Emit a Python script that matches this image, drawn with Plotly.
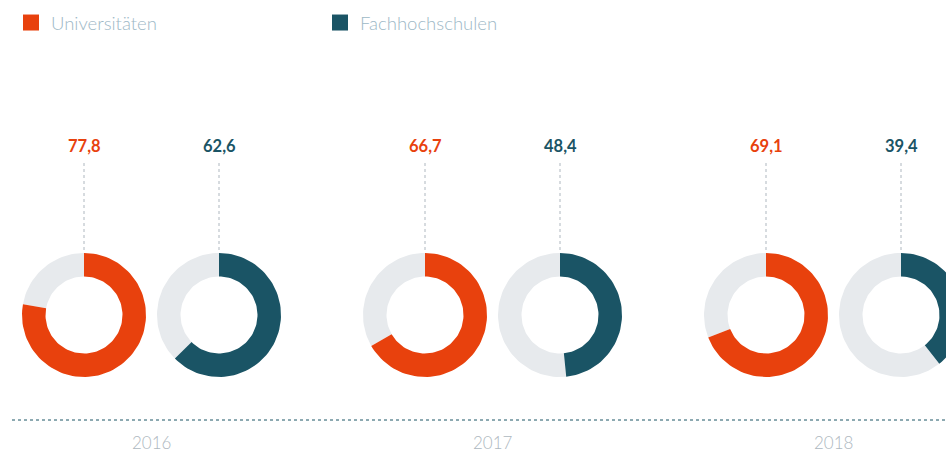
import numpy as np
import plotly.graph_objects as go

# ---- data ----
years = ["2016", "2017", "2018"]
series_names = ["Universitäten", "Fachhochschulen"]
uni_values = [77.8, 66.7, 69.1]
fh_values = [62.6, 48.4, 39.4]

# ---- style ----
W, H = 946, 453
colors = ["#E8410D", "#1A5465"]
grey = "#E7EAED"
font_family = "Lato, 'Open Sans', sans-serif"

group_x0 = 151.5      # centre of first year group (px)
group_step = 341      # distance between year groups (px)
pair_offset = 67.5    # half distance between the two donuts of a year
cy = 315              # donut centre y (px from top)
R_out, R_in = 62, 38.5


def sector(cx, cy, a0, a1, n=120):
    """annular sector from fraction a0 to a1 (clockwise from 12 o'clock)"""
    t = np.linspace(a0, a1, max(int(n * (a1 - a0)) + 2, 3)) * 2 * np.pi
    xo = cx + R_out * np.sin(t)
    yo = cy - R_out * np.cos(t)
    xi = cx + R_in * np.sin(t[::-1])
    yi = cy - R_in * np.cos(t[::-1])
    return np.concatenate([xo, xi, xo[:1]]), np.concatenate([yo, yi, yo[:1]])


fig = go.Figure()
shapes = []
annotations = []

for i, year in enumerate(years):
    gx = group_x0 + i * group_step
    for s, vals in enumerate([uni_values, fh_values]):
        v = vals[i]
        cx = gx + (-pair_offset if s == 0 else pair_offset)
        frac = v / 100.0
        # remainder (grey)
        x, y = sector(cx, cy, frac, 1.0)
        fig.add_trace(go.Scatter(x=x, y=y, fill="toself", fillcolor=grey,
                                 mode="lines", line=dict(width=0, color=grey),
                                 hoverinfo="skip", showlegend=False))
        # value (coloured)
        x, y = sector(cx, cy, 0.0, frac)
        fig.add_trace(go.Scatter(x=x, y=y, fill="toself", fillcolor=colors[s],
                                 mode="lines", line=dict(width=0, color=colors[s]),
                                 name=series_names[s], text=f"{year}: {v}",
                                 hoverinfo="text", showlegend=False))
        # dotted leader line
        shapes.append(dict(type="line", xref="x", yref="y",
                           x0=cx, x1=cx, y0=163, y1=cy - R_out,
                           line=dict(color="#AEB7BF", width=1, dash="dot")))
        # value label
        annotations.append(dict(x=cx, y=146, xref="x", yref="y",
                                text=f"<b>{v:.1f}</b>".replace(".", ","),
                                showarrow=False,
                                font=dict(family=font_family, size=16.5, color=colors[s])))
    # year label
    annotations.append(dict(x=gx, y=442, xref="x", yref="y", text=year,
                            showarrow=False,
                            font=dict(family=font_family, size=17, color="#AEB8C0", weight=300)))

# baseline dotted line
shapes.append(dict(type="line", xref="x", yref="y", x0=12, x1=W, y0=420, y1=420,
                   line=dict(color="#1A5465", width=1, dash="dot")))

# legend entries
for s in range(2):
    fig.add_trace(go.Scatter(x=[None], y=[None], mode="markers", name=series_names[s],
                             marker=dict(symbol="square", size=16, color=colors[s]),
                             showlegend=True))

fig.update_layout(
    width=W, height=H,
    margin=dict(l=0, r=0, t=0, b=0),
    paper_bgcolor="white", plot_bgcolor="white",
    xaxis=dict(range=[0, W], visible=False, fixedrange=True),
    yaxis=dict(range=[H, 0], visible=False, fixedrange=True),
    shapes=shapes,
    annotations=annotations,
    showlegend=True,
    legend=dict(orientation="h", x=11 / W, y=1 - 4 / H, xanchor="left", yanchor="top",
                entrywidth=264, entrywidthmode="pixels",
                font=dict(family=font_family, size=18.5, color="#9DB8C6", weight=300),
                bgcolor="rgba(0,0,0,0)"),
)

fig.write_html("out.html", config={"displayModeBar": False},
               post_script="document.body.style.margin='0px';document.body.style.overflow='hidden';")
